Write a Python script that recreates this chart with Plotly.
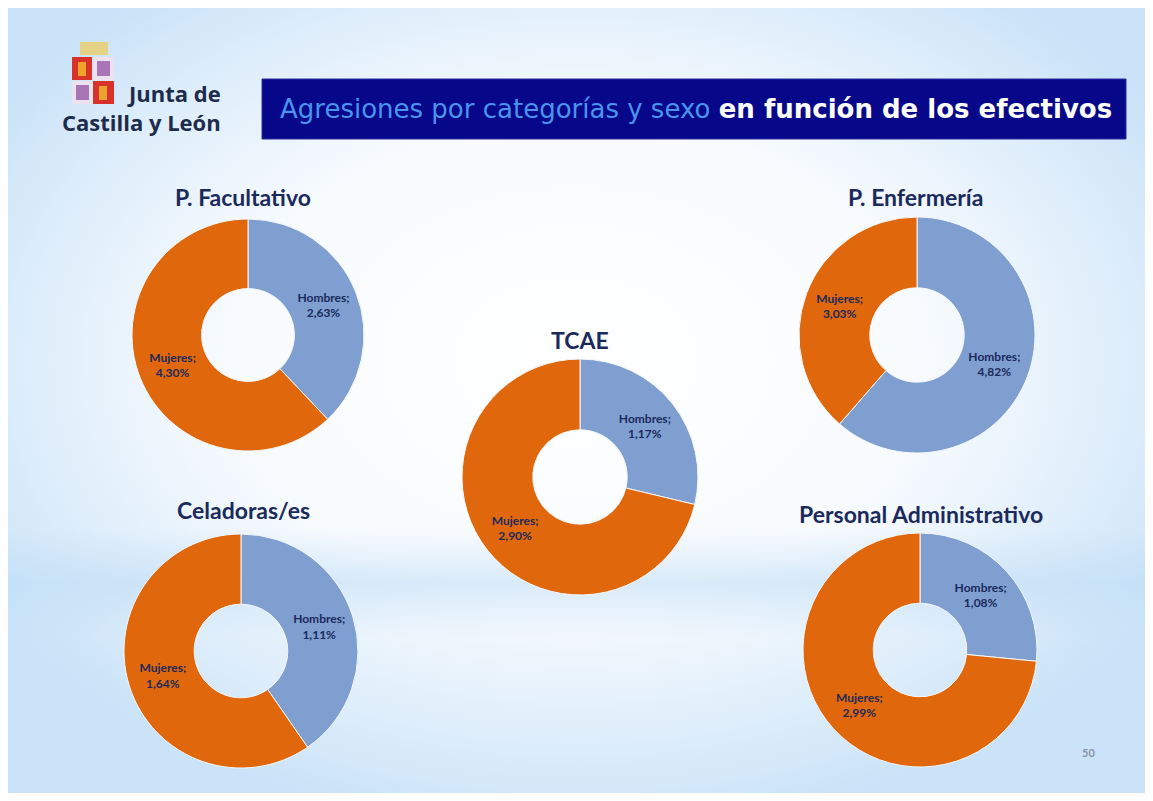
import urllib.parse
import plotly.graph_objects as go

# the page adds an 8px body margin, so the figure is a bit smaller than the window
OFF = 8
W, H = 1153 - 2 * OFF, 801 - 2 * OFF

# data
categories = ["P. Facultativo", "P. Enfermería", "TCAE", "Celadoras/es", "Personal Administrativo"]
sexes = ["Hombres", "Mujeres"]
hombres = [2.63, 4.82, 1.17, 1.11, 1.08]
mujeres = [4.30, 3.03, 2.90, 1.64, 2.99]

# pixel boxes (x0, x1, y0, y1) for each donut, window coordinates
boxes = [
    (132, 364, 219, 451),
    (799, 1035, 217, 453),
    (462, 698, 359, 595),
    (124, 358, 534, 768),
    (803, 1037, 533, 767),
]
title_pos = [(243, 197), (915, 197), (580, 340), (243, 510), (921, 514)]

BLUE = "#7f9fd1"
ORANGE = "#e0670b"
NAVY = "#1b2a5c"


def px(x):
    return (x - OFF) / W


def py(y):
    return 1 - (y - OFF) / H


def fmt(v):
    return f"{v:.2f}".replace(".", ",") + "%"


def note(x, y, text, size, color=NAVY, family="Lato", xanchor="center", align="center"):
    fig.add_annotation(x=px(x), y=py(y), xref="paper", yref="paper",
                       xanchor=xanchor, yanchor="middle", showarrow=False, align=align,
                       text=text, font=dict(family=family, size=size, color=color))


fig = go.Figure()

for i, cat in enumerate(categories):
    x0, x1, y0, y1 = boxes[i]
    vals = [hombres[i], mujeres[i]]
    fig.add_trace(go.Pie(
        labels=sexes,
        values=vals,
        text=[f"<b>{s};<br>{fmt(v)}</b>" for s, v in zip(sexes, vals)],
        textinfo="text",
        textposition="inside",
        insidetextorientation="horizontal",
        textfont=dict(family="Lato", size=12, color=NAVY),
        hole=0.4,
        sort=False,
        direction="clockwise",
        rotation=0,
        marker=dict(colors=[BLUE, ORANGE], line=dict(color="#f4f8fc", width=1)),
        domain=dict(x=[px(x0), px(x1)], y=[py(y1), py(y0)]),
        showlegend=False,
        name=cat,
    ))
    tx, ty = title_pos[i]
    note(tx, ty, f"<b>{cat}</b>", 23)

# slide background (light blue with a white glow in the middle)
svg = f"""<svg xmlns='http://www.w3.org/2000/svg' width='{W}' height='{H}'>
<defs>
<radialGradient id='g' cx='0.5' cy='0.45' r='0.6'>
<stop offset='0' stop-color='#ffffff'/>
<stop offset='0.5' stop-color='#f8fbfe'/>
<stop offset='1' stop-color='#ffffff' stop-opacity='0'/>
</radialGradient>
<linearGradient id='s' x1='0' y1='0' x2='0' y2='1'>
<stop offset='0' stop-color='#bddcf5' stop-opacity='0'/>
<stop offset='0.5' stop-color='#bddcf5' stop-opacity='0.9'/>
<stop offset='1' stop-color='#bddcf5' stop-opacity='0'/>
</linearGradient>
</defs>
<rect x='0' y='0' width='{W}' height='{H}' fill='#cae3f8'/>
<rect x='0' y='0' width='{W}' height='{H}' fill='url(#g)'/>
<rect x='0' y='520' width='{W}' height='110' fill='url(#s)' opacity='0.6'/>
</svg>"""
fig.add_layout_image(dict(
    source="data:image/svg+xml;charset=utf-8," + urllib.parse.quote(svg),
    xref="paper", yref="paper", x=0, y=1, sizex=1, sizey=1,
    sizing="stretch", layer="below",
))


def box(x0, x1, y0, y1, fill, line=None, opacity=1):
    return dict(type="rect", xref="paper", yref="paper",
                x0=px(x0), x1=px(x1), y0=py(y1), y1=py(y0),
                fillcolor=fill, opacity=opacity,
                line=line if line else dict(width=0))


shapes = [box(262, 1126, 79, 139, "#07078a", dict(color="#2c2ca0", width=1))]
# coat of arms (simplified)
shapes.append(box(80, 108, 42, 55, "#e8cf78", opacity=0.9))
for a, b, c, d, col in [(72, 92, 57, 80, "#d8322a"), (93, 114, 57, 80, "#ece2ee"),
                        (72, 92, 81, 104, "#ece2ee"), (93, 114, 81, 104, "#d8322a")]:
    shapes.append(box(a, b, c, d, col))
for a, b, c, d, col in [(78, 86, 62, 76, "#f2c12e"), (99, 107, 86, 100, "#f2c12e"),
                        (97, 110, 61, 76, "#9a5aa8"), (76, 89, 85, 100, "#9a5aa8")]:
    shapes.append(box(a, b, c, d, col, opacity=0.8))

note(278, 109, "<span style='color:#4a94ee'>Agresiones por categorías y sexo</span>"
               " <b>en función de los efectivos</b>", 26, color="white",
     family="DejaVu Sans", xanchor="left")
note(223, 108, "<b>Junta de<br>Castilla y León</b>", 22, color="#1d2b4c",
     family="Open Sans", xanchor="right", align="right")
note(1088, 752, "<b>50</b>", 11, color="#8a96a6")

fig.update_layout(
    width=W, height=H,
    margin=dict(l=0, r=0, t=0, b=0),
    paper_bgcolor="white",
    plot_bgcolor="white",
    shapes=shapes,
)

fig.write_html("out.html")
